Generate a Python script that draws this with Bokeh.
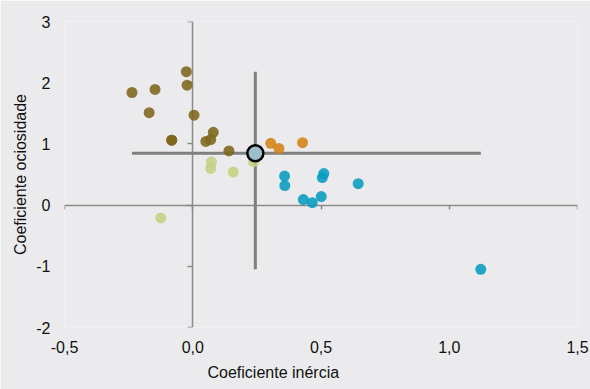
from bokeh.plotting import figure
from bokeh.models import LinearAxis, FixedTicker, Title
from bokeh.embed import file_html
from bokeh.resources import INLINE

# ---- data ----
x_ticks = [-0.5, 0.0, 0.5, 1.0, 1.5]
x_tick_labels = ["-0,5", "0,0", "0,5", "1,0", "1,5"]
y_ticks = [-2, -1, 0, 1, 2, 3]
y_tick_labels = ["-2", "-1", "0", "1", "2", "3"]

olive_x = [-0.025, -0.022, -0.237, -0.147, -0.170, 0.005, -0.082, -0.082, 0.080, 0.051, 0.070, 0.141]
olive_y = [2.18, 1.96, 1.84, 1.89, 1.51, 1.47, 1.06, 1.06, 1.19, 1.04, 1.07, 0.885]

green_x = [0.073, 0.070, 0.158, 0.237, -0.125]
green_y = [0.705, 0.60, 0.54, 0.71, -0.21]

orange_x = [0.304, 0.336, 0.428]
orange_y = [1.01, 0.925, 1.02]

teal_x = [0.358, 0.359, 0.511, 0.505, 0.645, 0.431, 0.466, 0.501, 1.123]
teal_y = [0.475, 0.32, 0.515, 0.45, 0.35, 0.09, 0.04, 0.14, -1.05]

ref_x = [0.244]
ref_y = [0.846]

x_title = "Coeficiente inércia"
y_title = "Coeficiente ociosidade"

# ---- style ----
BG = "#ebebed"
AX = "#8a8a8a"
CROSS = "#7f7f7f"
FONT = "Liberation Sans"
TXT = "#111111"

p = figure(width=590, height=389, x_range=(-0.5, 1.5), y_range=(-2, 3),
           output_backend="svg", toolbar_location=None,
           min_border_left=64, min_border_right=13, min_border_top=21, min_border_bottom=62,
           background_fill_color=BG, border_fill_color=BG, outline_line_color=None)
p.grid.visible = False

# label-only axes at the frame edges
p.xaxis.ticker = FixedTicker(ticks=x_ticks)
p.xaxis.major_label_overrides = {t: l for t, l in zip(x_ticks, x_tick_labels)}
p.yaxis.ticker = FixedTicker(ticks=y_ticks)
p.yaxis.major_label_overrides = {t: l for t, l in zip(y_ticks, y_tick_labels)}
for ax in (p.xaxis, p.yaxis):
    ax.axis_line_color = None
    ax.major_tick_line_color = None
    ax.minor_tick_line_color = None
    ax.major_tick_out = 0
    ax.major_tick_in = 0
    ax.major_label_text_font = FONT
    ax.major_label_text_font_size = "16px"
    ax.major_label_text_color = TXT
p.xaxis.major_label_standoff = 13
p.yaxis.major_label_standoff = 14
p.yaxis.axis_label = y_title
p.yaxis.axis_label_text_font = FONT
p.yaxis.axis_label_text_font_size = "16px"
p.yaxis.axis_label_text_font_style = "normal"
p.yaxis.axis_label_standoff = 4
p.yaxis.axis_label_text_color = TXT

# axis lines crossing at zero
xa0 = LinearAxis(fixed_location=0, ticker=FixedTicker(ticks=x_ticks),
                 axis_line_color=AX, axis_line_width=1.5,
                 major_tick_line_color=AX, major_tick_line_width=1.5,
                 major_tick_out=4, major_tick_in=0, minor_tick_line_color=None,
                 major_label_text_alpha=0, level="underlay")
ya0 = LinearAxis(fixed_location=0, ticker=FixedTicker(ticks=y_ticks),
                 axis_line_color=AX, axis_line_width=1.5,
                 major_tick_line_color=AX, major_tick_line_width=1.5,
                 major_tick_out=5, major_tick_in=0, minor_tick_line_color=None,
                 major_label_text_alpha=0, level="underlay")
p.add_layout(xa0, "below")
p.add_layout(ya0, "left")

# crosshair through the reference point spanning the data extent
all_x = olive_x + green_x + orange_x + teal_x
all_y = olive_y + green_y + orange_y + teal_y
p.segment(x0=[min(all_x), ref_x[0]], y0=[ref_y[0], min(all_y)],
          x1=[max(all_x), ref_x[0]], y1=[ref_y[0], max(all_y)],
          line_color=CROSS, line_width=3)

ALPHA = 0.88
p.scatter(olive_x, olive_y, size=11, fill_color="#7e651b", line_color=None, fill_alpha=ALPHA)
p.scatter(green_x, green_y, size=11, fill_color="#c1d181", line_color=None, fill_alpha=ALPHA)
p.scatter(orange_x, orange_y, size=11, fill_color="#d58214", line_color=None, fill_alpha=ALPHA)
p.scatter(teal_x, teal_y, size=11, fill_color="#079bc0", line_color=None, fill_alpha=ALPHA)
p.scatter(ref_x, ref_y, size=16, fill_color="#9cbfcb", line_color="#000000", line_width=2.5)

p.add_layout(Title(text=x_title, align="left", offset=143, text_font=FONT,
                   text_font_size="16px", text_font_style="normal", text_color=TXT,
                   standoff=12), "below")

open("out.html", "w").write(file_html(p, INLINE))
